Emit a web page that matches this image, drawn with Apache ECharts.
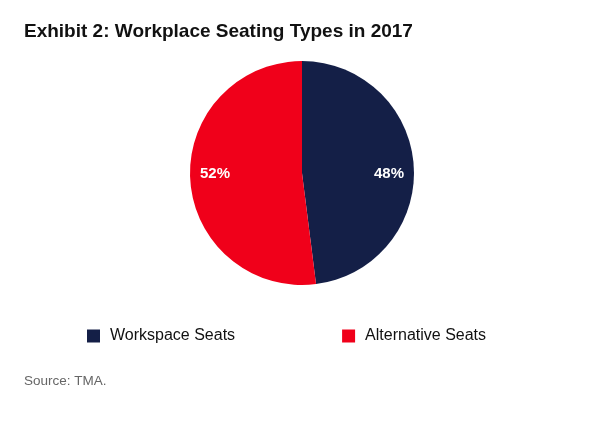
<!DOCTYPE html>
<html>
<head>
<meta charset="utf-8">
<script src="https://cdn.jsdelivr.net/npm/echarts@6/dist/echarts.min.js"></script>
<style>
html,body{margin:0;padding:0;background:#fff;}
#chart{width:600px;height:425px;}
</style>
</head>
<body>
<div id="chart"></div>
<script>
const categories = ["Workspace Seats", "Alternative Seats"];
const values = [48, 52];
const colors = ["#141f47", "#f0001a"];

const chart = echarts.init(document.getElementById('chart'), null, {renderer: 'canvas'});
const pieData = categories.map((c, i) => ({name: c, value: values[i], itemStyle: {color: colors[i]}}));
const labelData = categories.map((c, i) => ({name: c, value: values[i]}));

chart.setOption({
  backgroundColor: '#ffffff',
  animation: false,
  title: [{
    text: 'Exhibit 2: Workplace Seating Types in 2017',
    left: 19, top: 17,
    textStyle: {fontFamily: 'Liberation Sans', fontWeight: 'bold', fontSize: 19, color: '#111'}
  }, {
    text: 'Source: TMA.',
    left: 19, top: 369,
    textStyle: {fontFamily: 'Liberation Sans', fontWeight: 'normal', fontSize: 13.5, color: '#666'}
  }],
  legend: {
    data: categories.map((c, i) => ({name: c, itemStyle: {color: colors[i]}})),
    left: 82, top: 323,
    icon: 'rect', itemWidth: 13, itemHeight: 13, itemGap: 107,
    textStyle: {fontFamily: 'Liberation Sans', fontSize: 16, color: '#111', padding: [0,0,0,5]},
    selectedMode: false
  },
  series: [{
    type: 'pie',
    center: [302, 173],
    radius: [0, 112],
    startAngle: 90,
    clockwise: true,
    silent: true,
    data: pieData,
    label: {show: false},
    labelLine: {show: false},
    itemStyle: {borderWidth: 0}
  }, {
    type: 'pie',
    center: [302, 174],
    radius: [0, 168],
    startAngle: 86.4,
    clockwise: true,
    silent: true,
    data: labelData,
    itemStyle: {color: 'rgba(0,0,0,0)', borderWidth: 0},
    label: {
      show: true, position: 'inside',
      formatter: '{c}%',
      fontFamily: 'Liberation Sans', fontWeight: 'bold', fontSize: 15, color: '#fff'
    },
    labelLine: {show: false}
  }]
});
</script>
</body>
</html>
